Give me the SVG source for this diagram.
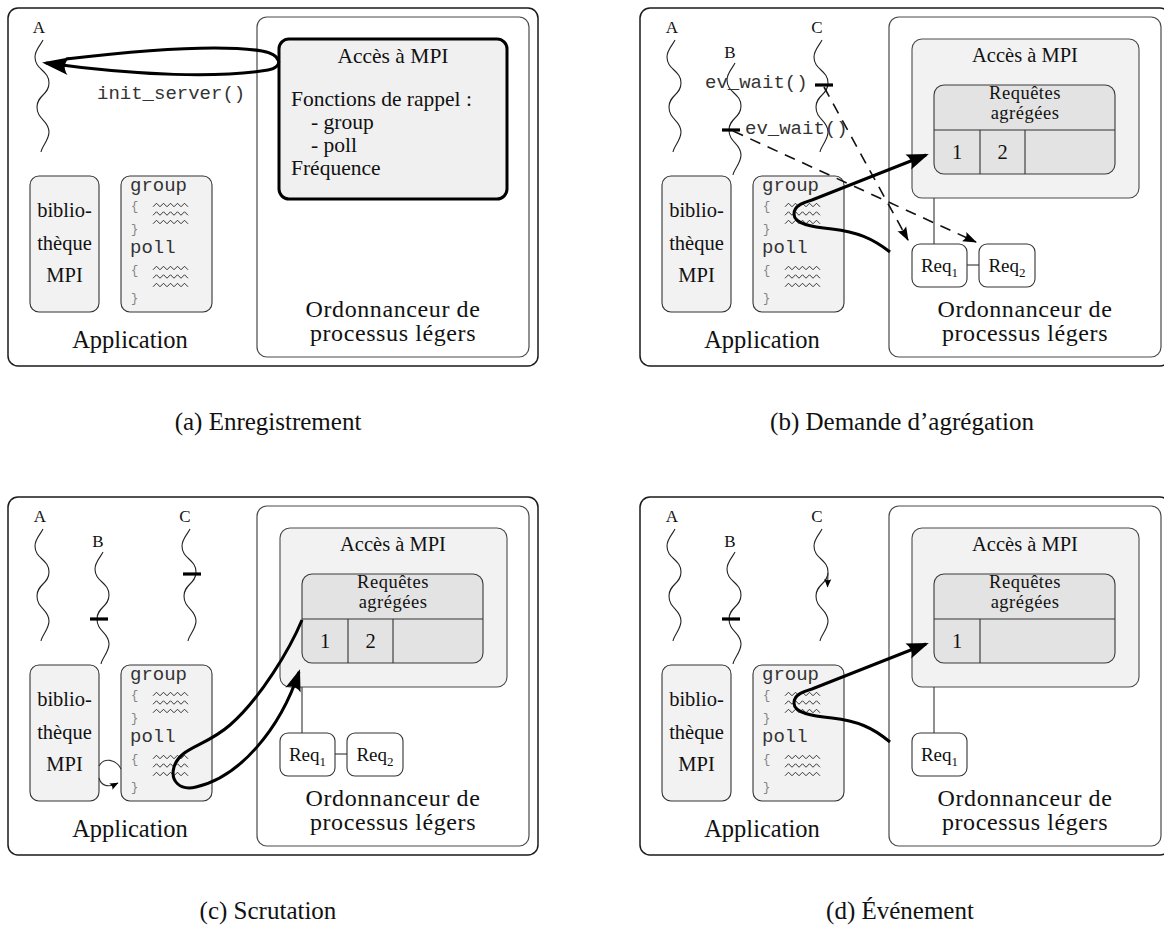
<svg xmlns="http://www.w3.org/2000/svg" xmlns:xlink="http://www.w3.org/1999/xlink" width="1164" height="926" viewBox="0 0 1164 926">
<style>
.frame{fill:none;stroke:#1a1a1a;stroke-width:1.5}
.sched{fill:#fff;stroke:#4a4a4a;stroke-width:1.2}
.box{fill:#f2f2f2;stroke:#333;stroke-width:1.1}
.acc{fill:#f2f2f2;stroke:#4a4a4a;stroke-width:1.1}
.accthick{fill:#f0f0f0;stroke:#000;stroke-width:3}
.tbl{fill:#e3e3e3;stroke:#3a3a3a;stroke-width:1.1}
.req{fill:#fff;stroke:#333;stroke-width:1.1}
.thin{fill:none;stroke:#333;stroke-width:1.1}
.thread{fill:none;stroke:#222;stroke-width:1.1}
.bar{stroke:#000;stroke-width:3.2}
.zz{fill:none;stroke:#222;stroke-width:0.9}
.thick{fill:none;stroke:#000;stroke-width:3}
.dash{fill:none;stroke:#111;stroke-width:1.6;stroke-dasharray:11 8}
.serif{font-family:"Liberation Serif",serif;fill:#111}
.big{font-size:24.5px}
.sch{font-size:24px;letter-spacing:0.6px}
.mid{font-size:20.5px}
.acct{font-size:21.5px}
.rq{font-size:18.5px;letter-spacing:0.5px}
.lbl{font-size:17px}
.cap{font-size:25px}
.mono{font-family:"Liberation Mono",monospace;fill:#333}
.code{font-size:19px}
.brace{font-family:"Liberation Mono",monospace;font-size:12px;fill:#808080}
.mdl{text-anchor:middle}
</style>
<defs>
<marker id="ahL" markerUnits="userSpaceOnUse" viewBox="-28 -11 33 22" markerWidth="33" markerHeight="22" refX="0" refY="0" orient="auto">
<path d="M4,0 L-23,-9 Q-15,0 -23,9 Z" fill="#000"/>
</marker>
<marker id="ah" markerUnits="userSpaceOnUse" viewBox="-24 -10 28 20" markerWidth="28" markerHeight="20" refX="0" refY="0" orient="auto">
<path d="M3,0 L-19,-8 Q-13,0 -19,8 Z" fill="#000"/>
</marker>
<marker id="ahs" markerUnits="userSpaceOnUse" viewBox="-15 -6 17 12" markerWidth="17" markerHeight="12" refX="0" refY="0" orient="auto">
<path d="M1,0 L-13,-5 Q-9,0 -13,5 Z" fill="#000"/>
</marker>
<marker id="aht" markerUnits="userSpaceOnUse" viewBox="-9 -4 10 8" markerWidth="10" markerHeight="8" refX="0" refY="0" orient="auto">
<path d="M0.5,0 L-8,-3.5 Q-5.5,0 -8,3.5 Z" fill="#000"/>
</marker>
<path id="thrA" class="thread" d="M43,40 C40,46 35,50 35,57 C35,70 49,70 49,83 C49,95 37,95 37,107 C37,120 49,120 49,132 C49,140 42,146 41,152"/>
<g id="zz" class="zz">
<polyline points="0,1.75 3.5,-1.75 7,1.75 10.5,-1.75 14,1.75 17.5,-1.75 21,1.75 24.5,-1.75 28,1.75 31.5,-1.75 35,1.75"/>
<polyline transform="translate(0,8.5)" points="0,1.75 3.5,-1.75 7,1.75 10.5,-1.75 14,1.75 17.5,-1.75 21,1.75 24.5,-1.75 28,1.75 31.5,-1.75 35,1.75"/>
<polyline transform="translate(0,17)" points="0,1.75 3.5,-1.75 7,1.75 10.5,-1.75 14,1.75 17.5,-1.75 21,1.75 24.5,-1.75 28,1.75 31.5,-1.75 35,1.75"/>
</g>
</defs>

<!-- ================= Panel (a) ================= -->
<g id="panel-a">
<rect class="frame" x="8" y="8" width="530" height="358" rx="10"/>
<g id="a-sched">
<rect class="sched" x="257" y="17" width="272" height="340" rx="10"/>
<text class="serif sch mdl" x="393" y="317">Ordonnanceur de</text>
<text class="serif sch mdl" x="393" y="341">processus légers</text>
</g>
<g id="a-access">
<rect class="accthick" x="279" y="39" width="228" height="160" rx="10"/>
<text class="serif acct mdl" x="393" y="63">Accès à MPI</text>
<text class="serif acct" x="291" y="106">Fonctions de rappel :</text>
<text class="serif acct" x="311" y="129">- group</text>
<text class="serif acct" x="311" y="152">- poll</text>
<text class="serif acct" x="291" y="175">Fréquence</text>
</g>
<g id="a-lib">
<rect class="box" x="30" y="176" width="69" height="136" rx="9"/>
<text class="serif mid mdl" x="64.5" y="217">biblio-</text>
<text class="serif mid mdl" x="64.5" y="250">thèque</text>
<text class="serif mid mdl" x="64.5" y="282">MPI</text>
</g>
<g id="a-code">
<rect class="box" x="121" y="176" width="91" height="136" rx="9"/>
<text class="mono code" x="130" y="191">group</text>
<text class="brace" x="131" y="210">{</text>
<use xlink:href="#zz" href="#zz" transform="translate(153,205)"/>
<text class="brace" x="131" y="233">}</text>
<text class="mono code" x="130" y="253">poll</text>
<text class="brace" x="131" y="274">{</text>
<use xlink:href="#zz" href="#zz" transform="translate(153,268)"/>
<text class="brace" x="131" y="302">}</text>
</g>
<g id="a-threadA">
<use xlink:href="#thrA" href="#thrA"/>
<text class="serif lbl mdl" x="39" y="33">A</text>
</g>
<text class="serif big mdl" x="130" y="348">Application</text>
<text class="mono code" x="97" y="99">init_server()</text>
<g id="a-connectors">
<path class="thick" d="M66,59 C150,49 220,44 262,51 C282,55 284,67 268,70 C220,78 140,76 46,63" marker-end="url(#ahL)"/>
</g>
<text class="serif cap mdl" x="268" y="430">(a) Enregistrement</text>
</g>

<!-- ================= Panel (b) ================= -->
<g id="panel-b" transform="translate(632,0)">
<rect class="frame" x="8" y="8" width="530" height="358" rx="10"/>
<g id="b-sched">
<rect class="sched" x="257" y="17" width="272" height="340" rx="10"/>
<text class="serif sch mdl" x="393" y="317">Ordonnanceur de</text>
<text class="serif sch mdl" x="393" y="341">processus légers</text>
</g>
<g id="b-access">
<rect class="acc" x="280" y="39" width="227" height="159" rx="10"/>
<text class="serif mid mdl" x="393" y="62">Accès à MPI</text>
</g>
<g id="b-table">
<rect class="tbl" x="302" y="85" width="181" height="89" rx="10"/>
<line class="thin" x1="302" y1="130" x2="483" y2="130"/>
<line class="thin" x1="348" y1="130" x2="348" y2="174"/>
<line class="thin" x1="393" y1="130" x2="393" y2="174"/>
<text class="serif rq mdl" x="393" y="98.5">Requêtes</text>
<text class="serif rq mdl" x="393" y="119">agrégées</text>
<text class="serif mid mdl" x="325" y="159">1</text>
<text class="serif mid mdl" x="370.5" y="159">2</text>
</g>
<g id="b-req1">
<rect class="req" x="280" y="244" width="55" height="43" rx="8"/>
<text class="serif mdl" font-size="19" x="307.5" y="272">Req<tspan font-size="13" dy="5">1</tspan></text>
</g>
<g id="b-req2">
<rect class="req" x="347" y="244" width="56" height="43" rx="8"/>
<text class="serif mdl" font-size="19" x="375" y="272">Req<tspan font-size="13" dy="5">2</tspan></text>
</g>
<g id="b-lib">
<rect class="box" x="30" y="176" width="69" height="136" rx="9"/>
<text class="serif mid mdl" x="64.5" y="217">biblio-</text>
<text class="serif mid mdl" x="64.5" y="250">thèque</text>
<text class="serif mid mdl" x="64.5" y="282">MPI</text>
</g>
<g id="b-code">
<rect class="box" x="121" y="176" width="91" height="136" rx="9"/>
<text class="mono code" x="130" y="191">group</text>
<text class="brace" x="131" y="210">{</text>
<use xlink:href="#zz" href="#zz" transform="translate(153,205)"/>
<text class="brace" x="131" y="233">}</text>
<text class="mono code" x="130" y="253">poll</text>
<text class="brace" x="131" y="274">{</text>
<use xlink:href="#zz" href="#zz" transform="translate(153,268)"/>
<text class="brace" x="131" y="302">}</text>
</g>
<g id="b-threads">
<use xlink:href="#thrA" href="#thrA"/>
<text class="serif lbl mdl" x="40" y="33">A</text>
<use xlink:href="#thrA" href="#thrA" transform="translate(60,23)"/>
<text class="serif lbl mdl" x="98" y="58">B</text>
<use xlink:href="#thrA" href="#thrA" transform="translate(147,0)"/>
<text class="serif lbl mdl" x="185" y="33">C</text>
<line class="bar" x1="183" y1="85" x2="201" y2="85"/>
<line class="bar" x1="90" y1="130" x2="108" y2="130"/>
<text class="mono code" x="73" y="88">ev_wait()</text>
<text class="mono code" x="113" y="134">ev_wait()</text>
</g>
<text class="serif big mdl" x="130" y="348">Application</text>
<g id="b-connectors">
<line class="thin" x1="302" y1="198" x2="302" y2="244"/>
<line class="thin" x1="335" y1="265" x2="347" y2="265"/>
<path class="dash" d="M192,87 L276,240" marker-end="url(#ahs)"/>
<path class="dash" d="M101,131 L344,242" marker-end="url(#ahs)"/>
<path class="thick" d="M258,252 C240,238 225,232 200,229 C180,227 162,224 162,214 C162,206 170,203 180,200 L294,155" marker-end="url(#ah)"/>
</g>
<text class="serif cap mdl" x="270" y="430">(b) Demande d’agrégation</text>
</g>

<!-- ================= Panel (c) ================= -->
<g id="panel-c" transform="translate(0,489)">
<rect class="frame" x="8" y="8" width="530" height="358" rx="10"/>
<g id="c-sched">
<rect class="sched" x="257" y="17" width="272" height="340" rx="10"/>
<text class="serif sch mdl" x="393" y="317">Ordonnanceur de</text>
<text class="serif sch mdl" x="393" y="341">processus légers</text>
</g>
<g id="c-access">
<rect class="acc" x="280" y="39" width="227" height="159" rx="10"/>
<text class="serif mid mdl" x="393" y="62">Accès à MPI</text>
</g>
<g id="c-table">
<rect class="tbl" x="302" y="85" width="181" height="89" rx="10"/>
<line class="thin" x1="302" y1="130" x2="483" y2="130"/>
<line class="thin" x1="348" y1="130" x2="348" y2="174"/>
<line class="thin" x1="393" y1="130" x2="393" y2="174"/>
<text class="serif rq mdl" x="393" y="98.5">Requêtes</text>
<text class="serif rq mdl" x="393" y="119">agrégées</text>
<text class="serif mid mdl" x="325" y="159">1</text>
<text class="serif mid mdl" x="370.5" y="159">2</text>
</g>
<g id="c-req1">
<rect class="req" x="280" y="244" width="55" height="43" rx="8"/>
<text class="serif mdl" font-size="19" x="307.5" y="272">Req<tspan font-size="13" dy="5">1</tspan></text>
</g>
<g id="c-req2">
<rect class="req" x="347" y="244" width="56" height="43" rx="8"/>
<text class="serif mdl" font-size="19" x="375" y="272">Req<tspan font-size="13" dy="5">2</tspan></text>
</g>
<g id="c-lib">
<rect class="box" x="30" y="176" width="69" height="136" rx="9"/>
<text class="serif mid mdl" x="64.5" y="217">biblio-</text>
<text class="serif mid mdl" x="64.5" y="250">thèque</text>
<text class="serif mid mdl" x="64.5" y="282">MPI</text>
</g>
<g id="c-code">
<rect class="box" x="121" y="176" width="91" height="136" rx="9"/>
<text class="mono code" x="130" y="191">group</text>
<text class="brace" x="131" y="210">{</text>
<use xlink:href="#zz" href="#zz" transform="translate(153,205)"/>
<text class="brace" x="131" y="233">}</text>
<text class="mono code" x="130" y="253">poll</text>
<text class="brace" x="131" y="274">{</text>
<use xlink:href="#zz" href="#zz" transform="translate(153,268)"/>
<text class="brace" x="131" y="302">}</text>
</g>
<g id="c-threads">
<use xlink:href="#thrA" href="#thrA"/>
<text class="serif lbl mdl" x="40" y="33">A</text>
<use xlink:href="#thrA" href="#thrA" transform="translate(60,23)"/>
<text class="serif lbl mdl" x="98" y="58">B</text>
<use xlink:href="#thrA" href="#thrA" transform="translate(147,0)"/>
<text class="serif lbl mdl" x="185" y="33">C</text>
<line class="bar" x1="183" y1="85" x2="201" y2="85"/>
<line class="bar" x1="90" y1="130" x2="108" y2="130"/>
</g>
<text class="serif big mdl" x="130" y="348">Application</text>
<g id="c-connectors">
<line class="thin" x1="302" y1="198" x2="302" y2="244"/>
<line class="thin" x1="335" y1="265" x2="347" y2="265"/>
<path class="thin" d="M121,280 C116,270 104,268 99,277"/>
<path class="thin" d="M99,289 C101,297 108,299 118,294" marker-end="url(#aht)"/>
<path class="thick" d="M302,131 C290,160 260,210 230,236 C205,258 180,258 174,278 C170,292 180,302 196,298 C240,288 280,240 299,183" marker-end="url(#ah)"/>
</g>
<text class="serif cap mdl" x="268" y="430">(c) Scrutation</text>
</g>

<!-- ================= Panel (d) ================= -->
<g id="panel-d" transform="translate(632,489)">
<rect class="frame" x="8" y="8" width="530" height="358" rx="10"/>
<g id="d-sched">
<rect class="sched" x="257" y="17" width="272" height="340" rx="10"/>
<text class="serif sch mdl" x="393" y="317">Ordonnanceur de</text>
<text class="serif sch mdl" x="393" y="341">processus légers</text>
</g>
<g id="d-access">
<rect class="acc" x="280" y="39" width="227" height="159" rx="10"/>
<text class="serif mid mdl" x="393" y="62">Accès à MPI</text>
</g>
<g id="d-table">
<rect class="tbl" x="302" y="85" width="181" height="89" rx="10"/>
<line class="thin" x1="302" y1="130" x2="483" y2="130"/>
<line class="thin" x1="348" y1="130" x2="348" y2="174"/>
<text class="serif rq mdl" x="393" y="98.5">Requêtes</text>
<text class="serif rq mdl" x="393" y="119">agrégées</text>
<text class="serif mid mdl" x="325" y="159">1</text>
</g>
<g id="d-req1">
<rect class="req" x="280" y="244" width="55" height="43" rx="8"/>
<text class="serif mdl" font-size="19" x="307.5" y="272">Req<tspan font-size="13" dy="5">1</tspan></text>
</g>
<g id="d-lib">
<rect class="box" x="30" y="176" width="69" height="136" rx="9"/>
<text class="serif mid mdl" x="64.5" y="217">biblio-</text>
<text class="serif mid mdl" x="64.5" y="250">thèque</text>
<text class="serif mid mdl" x="64.5" y="282">MPI</text>
</g>
<g id="d-code">
<rect class="box" x="121" y="176" width="91" height="136" rx="9"/>
<text class="mono code" x="130" y="191">group</text>
<text class="brace" x="131" y="210">{</text>
<use xlink:href="#zz" href="#zz" transform="translate(153,205)"/>
<text class="brace" x="131" y="233">}</text>
<text class="mono code" x="130" y="253">poll</text>
<text class="brace" x="131" y="274">{</text>
<use xlink:href="#zz" href="#zz" transform="translate(153,268)"/>
<text class="brace" x="131" y="302">}</text>
</g>
<g id="d-threads">
<use xlink:href="#thrA" href="#thrA"/>
<text class="serif lbl mdl" x="40" y="33">A</text>
<use xlink:href="#thrA" href="#thrA" transform="translate(60,23)"/>
<text class="serif lbl mdl" x="98" y="58">B</text>
<use xlink:href="#thrA" href="#thrA" transform="translate(147,0)"/>
<text class="serif lbl mdl" x="185" y="33">C</text>
<line class="bar" x1="90" y1="130" x2="108" y2="130"/>
<path class="thin" d="M196,84 L195.5,98" marker-end="url(#aht)"/>
</g>
<text class="serif big mdl" x="130" y="348">Application</text>
<g id="d-connectors">
<line class="thin" x1="302" y1="198" x2="302" y2="244"/>
<path class="thick" d="M258,253 C240,238 225,232 200,229 C180,227 162,224 162,214 C162,206 170,203 180,200 L294,155" marker-end="url(#ah)"/>
</g>
<text class="serif cap mdl" x="268" y="430">(d) Événement</text>
</g>
</svg>
